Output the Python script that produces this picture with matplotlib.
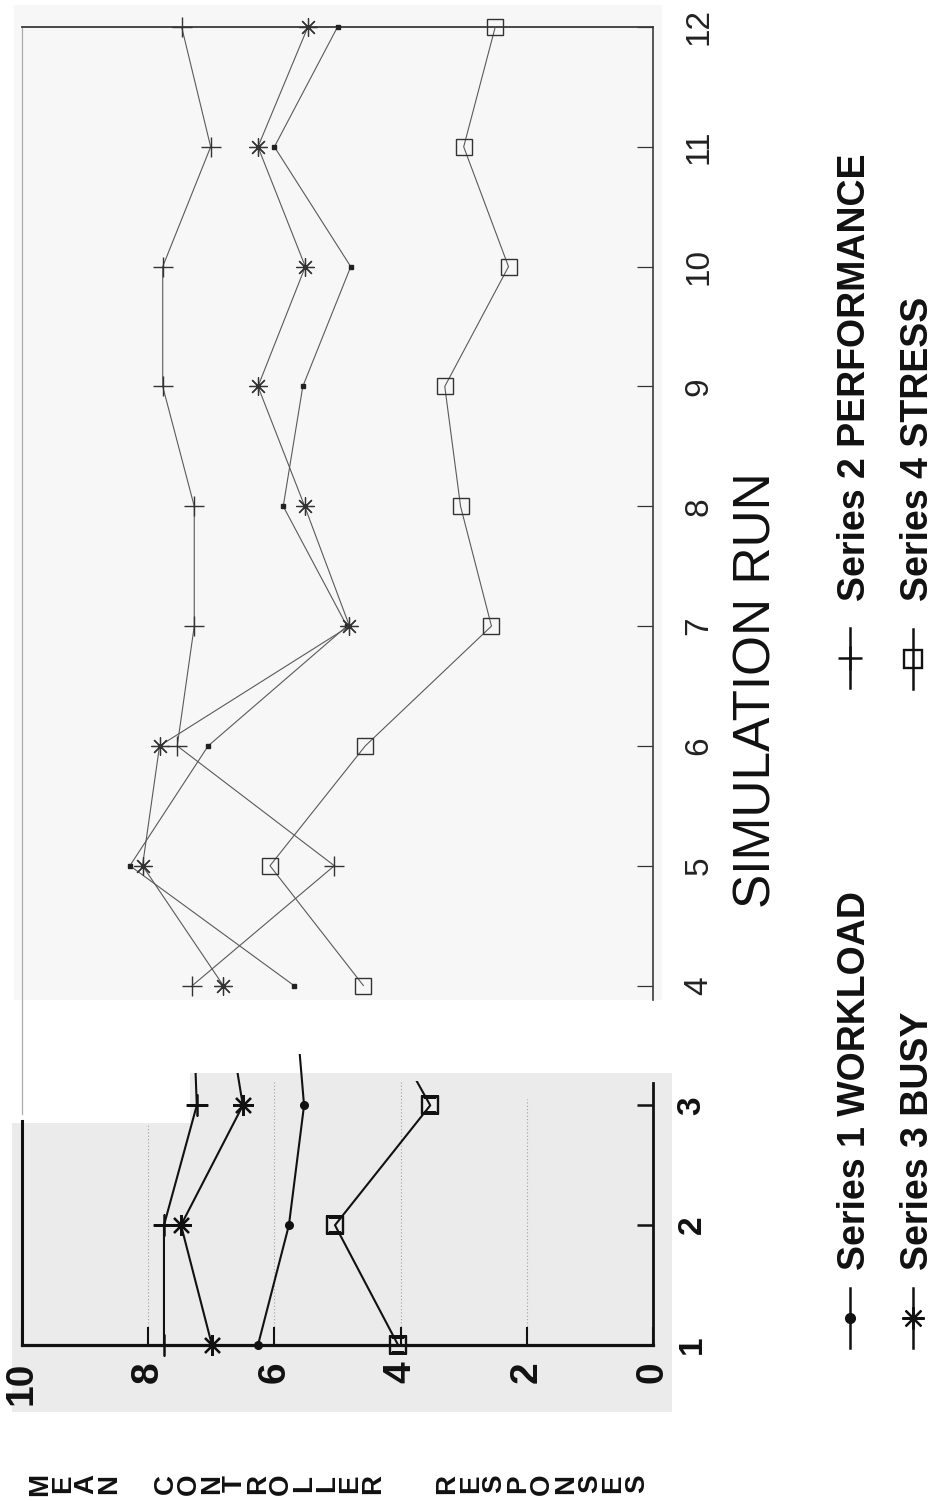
import matplotlib
matplotlib.use('Agg')
import matplotlib.pyplot as plt
from matplotlib.patches import Rectangle, Polygon
from matplotlib.lines import Line2D

plt.rcParams['font.family'] = ['Liberation Sans', 'DejaVu Sans']

# ---------------- data ----------------
runs = [1, 2, 3, 4, 5, 6, 7, 8, 9, 10, 11, 12]
workload = [6.26, 5.77, 5.53, 5.69, 8.29, 7.05, 4.85, 5.86, 5.55, 4.79, 6.00, 5.00]
performance = [7.75, 7.75, 7.23, 7.30, 5.05, 7.54, 7.27, 7.27, 7.77, 7.77, 7.01, 7.47]
busy = [6.99, 7.48, 6.50, 6.81, 8.09, 7.82, 4.81, 5.52, 6.26, 5.51, 6.26, 5.47]
stress = [4.04, 5.04, 3.53, 4.59, 6.07, 4.56, 2.56, 3.05, 3.30, 2.29, 3.00, 2.50]
series_names = ['Series 1 WORKLOAD', 'Series 2 PERFORMANCE', 'Series 3 BUSY', 'Series 4 STRESS']
value_ticks = [10, 8, 6, 4, 2, 0]
early_runs = [1, 2, 3]
late_runs = [4, 5, 6, 7, 8, 9, 10, 11, 12]
x_title = 'SIMULATION RUN'
y_title_words = ['MEAN', 'CONTROLLER', 'RESPONSES']

W, H = 940, 1501
fig = plt.figure(figsize=(W / 100, H / 100), dpi=100)
fig.patch.set_facecolor('white')


def fr(x, y):
    return (x / W, 1 - y / H)


# ---------------- scanned-paper backgrounds ----------------
fig.add_artist(Rectangle(fr(14, 1000), 648 / W, 995 / H, transform=fig.transFigure,
                         fc='#f7f7f7', ec='none', zorder=-5))
lower_bg = [(12, 1123), (190, 1123), (190, 1073), (672, 1073), (672, 1412), (12, 1412)]
fig.add_artist(Polygon([fr(*p) for p in lower_bg], closed=True, transform=fig.transFigure,
                       fc='#ebebeb', ec='none', zorder=-5))

pos = [22 / W, 1 - 1345 / H, (653 - 22) / W, (1345 - 27) / H]

# ---------------- lower (runs 1-3) bold section ----------------
ax = fig.add_axes(pos)
ax.set_xlim(10, 0)
ax.set_ylim(1, 12)
ax.patch.set_visible(False)
ax.spines['top'].set_visible(False)
for s in ['bottom', 'left', 'right']:
    ax.spines[s].set_color('#111111')
ax.spines['bottom'].set_linewidth(2.3)
ax.spines['left'].set_linewidth(2.2)
ax.spines['left'].set_bounds(1, 2.87)
ax.spines['right'].set_linewidth(2.0)
ax.spines['right'].set_bounds(1, 3.19)

ax.set_xticks(value_ticks)
ax.set_xticklabels([str(v) for v in value_ticks], rotation=90, fontsize=28, fontweight='bold')
ax.tick_params(axis='x', direction='in', length=13, width=1.5, pad=12, colors='#111111')
ax.yaxis.tick_right()
ax.set_yticks(early_runs)
ax.set_yticklabels([str(r) for r in early_runs], rotation=90, fontsize=24, fontweight='bold')
ax.tick_params(axis='y', direction='in', length=11.5, width=1.8, pad=17, colors='#111111')
for t in ax.get_yticklabels():
    t.set_va('center')

grid_vals = [8, 6, 4, 2]
grid_tops = [2.85, 3.2, 3.2, 3.05]
ax.vlines(grid_vals, 1.02, grid_tops, colors='#a0a0a0', linestyles=(0, (1, 2)),
          linewidth=0.8, zorder=0.5)

clip_pts = [(10.3, 0.8), (10.3, 2.87), (7.9, 2.87), (7.9, 3.27), (6.1, 3.27), (6.1, 3.43),
            (4.9, 3.43), (4.9, 3.2), (-0.3, 3.2), (-0.3, 0.8)]
clip_poly = Polygon(clip_pts, closed=True, transform=ax.transData)

ast = (8, 2, 0)
lower_styles = [
    (workload, dict(marker='o', ms=5.5, mfc='#111111', mec='#111111')),
    (performance, dict(marker='+', ms=16, mew=1.8, mec='#111111')),
    (busy, dict(marker=ast, ms=15, mew=1.6, mec='#111111')),
    (stress, dict(marker='s', ms=12, mew=1.7, mfc='none', mec='#111111')),
]
for vals, st in lower_styles:
    ln, = ax.plot(vals[:4], runs[:4], color='#111111', lw=1.5, zorder=3, **st)
    ln.set_clip_path(clip_poly)
    ln.set_clip_box(None)

# ---------------- upper (runs 4-12) light section ----------------
ax2 = fig.add_axes(pos)
ax2.set_xlim(10, 0)
ax2.set_ylim(1, 12)
ax2.patch.set_visible(False)
ax2.spines['bottom'].set_visible(False)
ax2.spines['top'].set_color('#3a3a3a')
ax2.spines['top'].set_linewidth(1.3)
ax2.spines['right'].set_color('#3a3a3a')
ax2.spines['right'].set_linewidth(1.2)
ax2.spines['right'].set_bounds(3.88, 12)
ax2.spines['left'].set_color('#aaaaaa')
ax2.spines['left'].set_linewidth(0.9)
ax2.spines['left'].set_bounds(2.93, 12)
ax2.set_xticks([])
ax2.yaxis.tick_right()
ax2.set_yticks(late_runs)
ax2.set_yticklabels([str(r) for r in late_runs], rotation=90, fontsize=24, color='#222222')
ax2.tick_params(axis='y', direction='in', length=11.5, width=0.9, pad=22, colors='#333333')
for t in ax2.get_yticklabels():
    t.set_va('center')
    t.set_color('#222222')

upper_styles = [
    (workload, dict(marker='s', ms=3.5, mfc='#222222', mec='#222222')),
    (performance, dict(marker='+', ms=15, mew=1.0, mec='#333333')),
    (busy, dict(marker=ast, ms=13, mew=0.9, mec='#333333')),
    (stress, dict(marker='s', ms=11.5, mew=1.0, mfc='none', mec='#333333')),
]
for vals, st in upper_styles:
    ax2.plot(vals[3:], runs[3:], color='#5a5a5a', lw=0.8, clip_on=False, zorder=3, **st)

# ---------------- titles ----------------
fig.text(757 / W, 1 - 690 / H, x_title, rotation=90, fontsize=37, ha='center', va='center',
         color='#111111')

# stacked (one letter per line) value-axis title, rotated with the chart
word_left = [27, 153, 434]
word_spacing = [0.86, 0.85, 0.89]
for word, x0, ls in zip(y_title_words, word_left, word_spacing):
    fig.text(x0 / W, 1 - 1484 / H, '\n'.join(word), rotation=90, fontsize=20,
             fontweight='bold', ha='left', va='center', multialignment='center',
             linespacing=ls, color='#111111')

# ---------------- legend (rotated) ----------------
leg_items = [
    (series_names[0], 850, 1318, 1270, dict(marker='o', ms=7, mfc='#111111', mec='#111111')),
    (series_names[1], 850, 658, 601, dict(marker='+', ms=17, mew=1.8, mec='#111111')),
    (series_names[2], 913, 1318, 1270, dict(marker=ast, ms=16, mew=1.6, mec='#111111')),
    (series_names[3], 913, 659, 601, dict(marker='s', ms=12.5, mew=1.7, mfc='none', mec='#111111')),
]
for name, xc, yc, ytext, st in leg_items:
    fig.add_artist(Line2D([xc / W, xc / W], [1 - (yc - 30) / H, 1 - (yc + 30) / H],
                          transform=fig.transFigure, color='#111111', lw=1.8))
    fig.add_artist(Line2D([xc / W], [1 - yc / H], transform=fig.transFigure,
                          linestyle='none', **st))
    fig.text((xc + 5) / W, 1 - ytext / H, name, rotation=90, fontsize=27, fontweight='bold',
             ha='center', va='bottom', color='#111111')

fig.savefig('out.png', dpi=100, facecolor='white')
